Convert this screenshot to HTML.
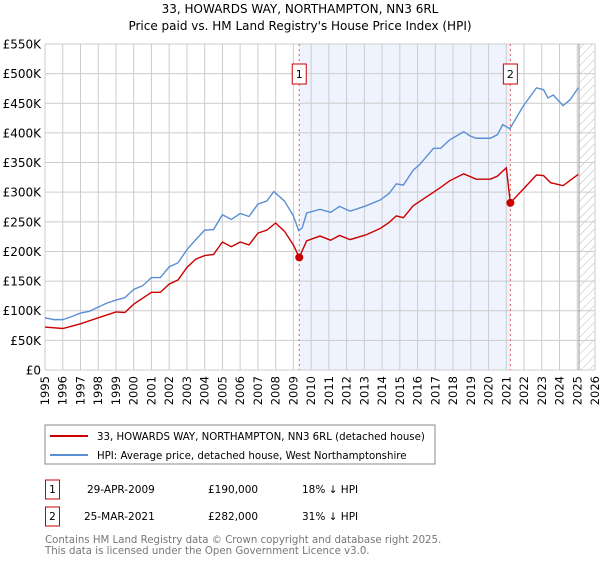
<!DOCTYPE html>
<html><head><meta charset="utf-8"><style>
body{margin:0;background:#fff;font-family:"Liberation Sans","DejaVu Sans",sans-serif}
svg text{font-family:"DejaVu Sans","Liberation Sans",sans-serif}
</style></head><body>
<svg id="c" width="600" height="560" xmlns="http://www.w3.org/2000/svg">
<defs><pattern id="hatch" width="6" height="6" patternUnits="userSpaceOnUse" patternTransform="rotate(45)"><line x1="0" y1="0" x2="0" y2="6" stroke="#bbb" stroke-width="1"/></pattern></defs>
<text x="300" y="13" text-anchor="middle" font-size="12" fill="#000">33, HOWARDS WAY, NORTHAMPTON, NN3 6RL</text>
<text x="300" y="30" text-anchor="middle" font-size="12" fill="#000">Price paid vs. HM Land Registry's House Price Index (HPI)</text>
<g id="grid"></g>
<g id="series"></g>
<g id="legend">
<rect x="45" y="425" width="390" height="39" fill="#fff" stroke="#888"/>
<line x1="50" y1="436" x2="88" y2="436" stroke="#cc0000" stroke-width="2"/>
<text x="97" y="440" font-size="10.2">33, HOWARDS WAY, NORTHAMPTON, NN3 6RL (detached house)</text>
<line x1="50" y1="455" x2="88" y2="455" stroke="#5b8fd4" stroke-width="2"/>
<text x="97" y="459" font-size="10.2">HPI: Average price, detached house, West Northamptonshire</text>
</g>
<g>
<rect x="45.5" y="480" width="14" height="19" fill="#fff" stroke="#cc0000"/>
<text x="52.5" y="493" text-anchor="middle" font-size="10.5">1</text>
<text x="87" y="493" font-size="10.5">29-APR-2009</text>
<text x="208" y="493" font-size="10.5">£190,000</text>
<text x="302" y="493" font-size="10.5">18% ↓ HPI</text>
<rect x="45.5" y="507" width="14" height="19" fill="#fff" stroke="#cc0000"/>
<text x="52.5" y="520" text-anchor="middle" font-size="10.5">2</text>
<text x="84" y="520" font-size="10.5">25-MAR-2021</text>
<text x="208" y="520" font-size="10.5">£282,000</text>
<text x="302" y="520" font-size="10.5">31% ↓ HPI</text>
</g>
<text x="45" y="543" font-size="10.2" fill="#777">Contains HM Land Registry data © Crown copyright and database right 2025.</text>
<text x="45" y="554" font-size="10.2" fill="#777">This data is licensed under the Open Government Licence v3.0.</text>
</svg>
<script>
const hpiYears=[1995,1995.5,1996,1996.5,1997,1997.5,1998,1998.5,1999,1999.5,2000,2000.5,2001,2001.5,2002,2002.5,2003,2003.5,2004,2004.5,2005,2005.5,2006,2006.5,2007,2007.5,2007.9,2008.5,2009,2009.3,2009.5,2009.75,2010.5,2011.1,2011.6,2012.2,2013.1,2013.9,2014.4,2014.8,2015.2,2015.75,2016.1,2016.9,2017.3,2017.8,2018.6,2018.95,2019.3,2020.1,2020.5,2020.8,2021.2,2021.95,2022.7,2023.1,2023.35,2023.65,2024.2,2024.6,2025.05];
const hpiValues=[88,85,85,90,96,99,106,113,118,122,136,142,156,156,174,181,203,220,236,237,262,254,264,259,280,285,301,285,260,235,240,265,271,266,276,268,277,287,298,314,312,337,346,374,374,388,402,395,391,391,397,414,407,445,476,473,459,464,446,456,476];
const priceYears=[1995,1996,1997,1998,1999,1999.5,2000,2001,2001.5,2002,2002.5,2003,2003.5,2004,2004.5,2005,2005.5,2006,2006.5,2007,2007.5,2008,2008.5,2009,2009.33,2009.75,2010.5,2011.1,2011.6,2012.2,2013.1,2013.9,2014.4,2014.8,2015.2,2015.75,2016.9,2017.3,2017.8,2018.6,2019.3,2020.1,2020.5,2021.0,2021.23,2021.95,2022.7,2023.1,2023.5,2024.2,2025.05];
const priceValues=[72.5,70,78,88,98,97,111,131,131,145,152,173,187,193,195,216,208,216,211,231,236,248,234,211,190,218,226,219,227,220,228,239,249,260,257,277,300,308,319,331,322,322,327,341,282,305,329,328,316,311,330];
const saleYears=[2009.33,2021.23];
const saleValues=[190,282];
const saleLabels=["1","2"];
const yTicks=[0,50,100,150,200,250,300,350,400,450,500,550];
const yTickLabels=["£0","£50K","£100K","£150K","£200K","£250K","£300K","£350K","£400K","£450K","£500K","£550K"];
const xTicks=[1995,1996,1997,1998,1999,2000,2001,2002,2003,2004,2005,2006,2007,2008,2009,2010,2011,2012,2013,2014,2015,2016,2017,2018,2019,2020,2021,2022,2023,2024,2025,2026];
const dataEnd=2025.1;

const X0=45,X1=595,Y0=370,Y1=44;
const xs=y=>X0+(y-1995)/(2026-1995)*(X1-X0);
const ys=v=>Y0-v/550*(Y0-Y1);
const NS="http://www.w3.org/2000/svg";
function mk(tag,attrs,parent){const e=document.createElementNS(NS,tag);for(const k in attrs)e.setAttribute(k,attrs[k]);parent.appendChild(e);return e;}
const g=document.getElementById('grid'),s=document.getElementById('series');
let r=mk('rect',{x:xs(saleYears[0]),y:Y1,width:xs(saleYears[1])-xs(saleYears[0]),height:Y0-Y1,fill:'#eef3fd'},g);


r=mk('rect',{x:xs(dataEnd),y:Y1,width:X1-xs(dataEnd),height:Y0-Y1,fill:'url(#hatch)'},g);


xTicks.forEach(t=>{
 let l=mk('line',{x1:xs(t),x2:xs(t),y1:Y1,y2:Y0,stroke:'#ccc','stroke-width':1},g);
 
 
 let tx=mk('text',{x:0,y:0,'font-size':11.5,'text-anchor':'end',transform:`translate(${xs(t)+4},${Y0+6}) rotate(-90)`},g);
 tx.textContent=t;
 
 
});
yTicks.forEach((t,i)=>{
 let l=mk('line',{x1:X0,x2:X1,y1:ys(t),y2:ys(t),stroke:'#ccc','stroke-width':1},g);
 
 
 let tx=mk('text',{x:X0-4,y:ys(t)+4.5,'font-size':12,'text-anchor':'end'},g);
 tx.textContent=yTickLabels[i];
 
 
});
let el=mk('line',{x1:xs(dataEnd),x2:xs(dataEnd),y1:Y1,y2:Y0,stroke:'#999','stroke-width':1},g);


saleYears.forEach((sy,i)=>{
 let l=mk('line',{x1:xs(sy),x2:xs(sy),y1:Y1,y2:Y0,stroke:'#e06060','stroke-width':1,'stroke-dasharray':'2,3'},g);
 
 
 let b=mk('rect',{x:xs(sy)-7,y:64,width:14,height:20,fill:'#fff',stroke:'#cc0000'},s);
 
 
 let t=mk('text',{x:xs(sy),y:78,'font-size':11,'text-anchor':'middle'},s);
 t.textContent=saleLabels[i];
 
 
});
let hp=mk('polyline',{points:hpiYears.map((y,i)=>xs(y)+','+ys(hpiValues[i])).join(' '),fill:'none',stroke:'#5b8fd4','stroke-width':1.4},s);


let pp=mk('polyline',{points:priceYears.map((y,i)=>xs(y)+','+ys(priceValues[i])).join(' '),fill:'none',stroke:'#cc0000','stroke-width':1.4},s);


saleYears.forEach((sy,i)=>{
 let c=mk('circle',{cx:xs(sy),cy:ys(saleValues[i]),r:4,fill:'#cc0000'},s);
 
 
});
</script>
</body></html>
